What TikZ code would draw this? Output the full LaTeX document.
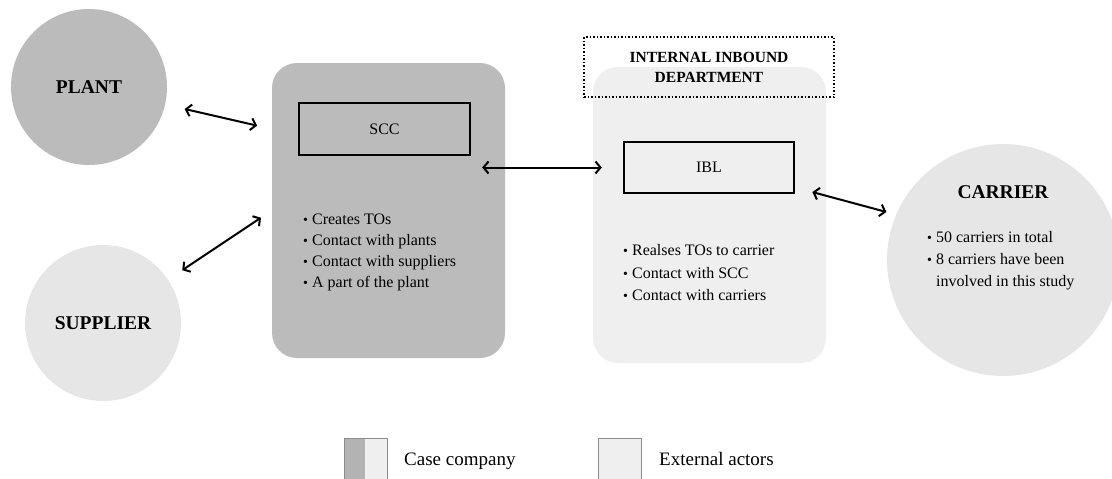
\documentclass[tikz,border=0pt]{standalone}
\usepackage{fontspec}
\setmainfont{Liberation Serif}
\usetikzlibrary{arrows.meta, calc}
\definecolor{gdark}{HTML}{BBBBBB}
\definecolor{glight}{HTML}{E6E6E6}
\definecolor{gpale}{HTML}{EFEFEF}
\definecolor{gedge}{HTML}{8C8C8C}
\definecolor{glegdark}{HTML}{B3B3B3}
\newcommand{\itembullet}{{\fontsize{14}{14}\selectfont•}\ }
\tikzset{
  actor/.style={circle, draw=none, minimum size=156pt, inner sep=0pt,
                font=\fontsize{19.5}{22}\selectfont\bfseries},
  unitbox/.style={rectangle, rounded corners=25pt, minimum width=233pt,
                  minimum height=295pt, inner sep=0pt},
  rolebox/.style={draw=black, line width=2pt, minimum width=171pt,
                  minimum height=52pt, font=\fontsize{16}{18}\selectfont},
  tasklist/.style={anchor=north west, inner sep=0pt, align=left},
  legbox/.style={draw=gedge, line width=0.8pt, minimum size=43pt, inner sep=0pt},
}

\begin{document}
\begin{tikzpicture}[
    x=1pt, y=-1pt,
    biarr/.style={{Straight Barb[length=5pt,width=12pt]}-{Straight Barb[length=5pt,width=12pt]},
                  line width=2pt, black},
    legtext/.style={anchor=base west, inner sep=0pt, font=\fontsize{19}{22}\selectfont}
  ]
  \useasboundingbox (0,0) rectangle (1112,479);

  % actors outside the case company
  \node[actor, fill=gdark] (plant) at (89,87) {PLANT};
  \node[actor, fill=glight] (supplier) at (103,323) {SUPPLIER};

  % supply chain control
  \node[unitbox, fill=gdark] (scc) at (388.5,210.5) {};
  \node[rolebox] (sccrole) at (384.5,129) {SCC};
  \node[tasklist, font=\fontsize{16}{21}\selectfont] (scctasks) at (303,213.5)
    {\itembullet Creates TOs\\\itembullet Contact with plants\\\itembullet Contact with suppliers\\\itembullet A part of the plant};

  % inbound logistics
  \node[unitbox, fill=gpale, minimum height=296pt] (ibl) at (709.5,215) {};
  \node[draw=black, dotted, line width=1.5pt, minimum width=250pt, minimum height=60pt,
        align=center, font=\fontsize{15.5}{20}\selectfont\bfseries] (dept) at (709,67)
    {INTERNAL INBOUND\\DEPARTMENT};
  \node[rolebox, minimum width=170pt, minimum height=51pt] (iblrole) at (709,167.5) {IBL};
  \node[tasklist, font=\fontsize{16}{22.5}\selectfont] (ibltasks) at (623,244.5)
    {\itembullet Realses TOs to carrier\\\itembullet Contact with SCC\\\itembullet Contact with carriers};

  % carrier
  \node[actor, fill=glight, minimum size=232pt] (carrier) at (1003,260) {};
  \node[font=\fontsize{19.5}{22}\selectfont\bfseries] (carriername) at (1003,192.5) {CARRIER};
  \node[tasklist, font=\fontsize{16}{22}\selectfont] (carriertasks) at (927,231.5)
    {\itembullet 50 carriers in total\\\itembullet 8 carriers have been\\\hphantom{\itembullet}involved in this study};

  \draw[biarr, shorten <=20pt, shorten >=15pt] (plant) -- (scc.west |- sccrole);
  \draw[biarr, shorten <=17pt, shorten >=13pt] (supplier) -- (scc.west);
  \draw[biarr, shorten <=-23pt, shorten >=-9pt] (scc.east |- iblrole) -- (ibl.west |- iblrole);
  \draw[biarr, shorten <=18pt, shorten >=10pt] ($(iblrole.east)!0.75!(iblrole.south east)$) -- (carrier.157);

  % legend
  \node[legbox, fill=gpale, path picture={
      \fill[glegdark] (path picture bounding box.north west) rectangle
        ([xshift=21pt]path picture bounding box.south west);}] (legcase) at (365.5,459.5) {};
  \node[legtext] (legcasetext) at (404,465) {Case company};
  \node[legbox, fill=gpale] (legext) at (619.5,459.5) {};
  \node[legtext] (legexttext) at (659,465) {External actors};

\end{tikzpicture}
\end{document}
